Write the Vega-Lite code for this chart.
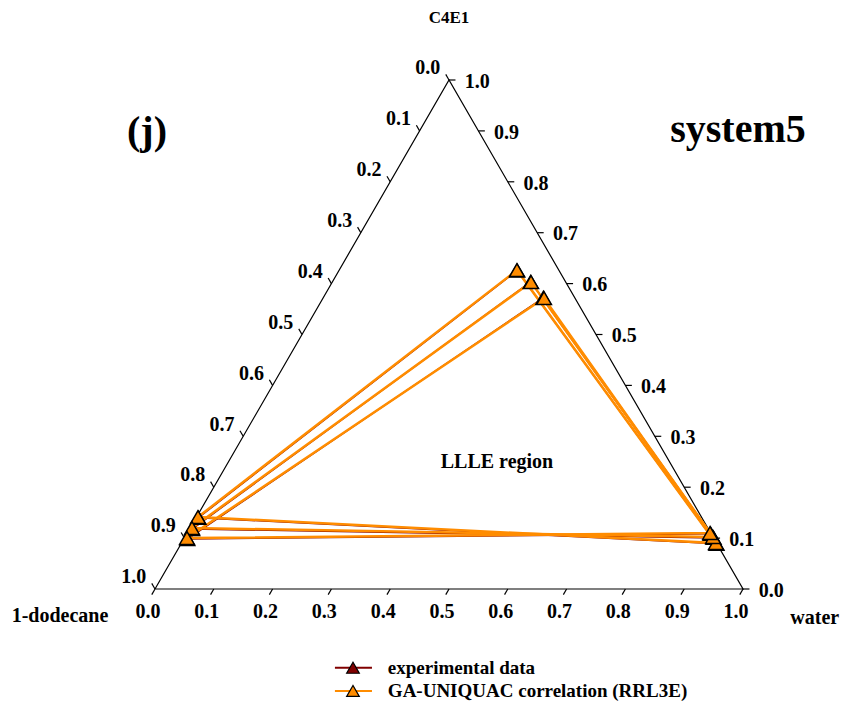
{
"$schema": "https://vega.github.io/schema/vega-lite/v6.json",
"width": 588, "height": 509,
"autosize": {"type": "none"},
"padding": {"left": 155, "top": 80, "right": 112, "bottom": 124},
"background": "white",
"config": {"view": {"stroke": null}, "text": {"font": "Liberation Serif", "fontWeight": "bold", "color": "black"}},
"datasets": {
"frame": [{"x":0,"y":0,"o":0},{"x":1,"y":0,"o":1},{"x":0.5,"y":0.866,"o":2},{"x":0,"y":0,"o":3}],
"ticks": [
{"x":0,"y":0,"x2":-0.0055,"y2":-0.0095},{"x":0.1,"y":0,"x2":0.0945,"y2":-0.0095},{"x":0.2,"y":0,"x2":0.1945,"y2":-0.0095},{"x":0.3,"y":0,"x2":0.2945,"y2":-0.0095},{"x":0.4,"y":0,"x2":0.3945,"y2":-0.0095},{"x":0.5,"y":0,"x2":0.4945,"y2":-0.0095},{"x":0.6,"y":0,"x2":0.5945,"y2":-0.0095},{"x":0.7,"y":0,"x2":0.6945,"y2":-0.0095},{"x":0.8,"y":0,"x2":0.7945,"y2":-0.0095},{"x":0.9,"y":0,"x2":0.8945,"y2":-0.0095},{"x":1,"y":0,"x2":0.9945,"y2":-0.0095},
{"x":1,"y":0,"x2":1.011,"y2":0},{"x":0.95,"y":0.0866,"x2":0.961,"y2":0.0866},{"x":0.9,"y":0.1732,"x2":0.911,"y2":0.1732},{"x":0.85,"y":0.2598,"x2":0.861,"y2":0.2598},{"x":0.8,"y":0.3464,"x2":0.811,"y2":0.3464},{"x":0.75,"y":0.433,"x2":0.761,"y2":0.433},{"x":0.7,"y":0.5196,"x2":0.711,"y2":0.5196},{"x":0.65,"y":0.6062,"x2":0.661,"y2":0.6062},{"x":0.6,"y":0.6928,"x2":0.611,"y2":0.6928},{"x":0.55,"y":0.7794,"x2":0.561,"y2":0.7794},{"x":0.5,"y":0.866,"x2":0.511,"y2":0.866},
{"x":0.5,"y":0.866,"x2":0.4945,"y2":0.8755},{"x":0.45,"y":0.7794,"x2":0.4445,"y2":0.7889},{"x":0.4,"y":0.6928,"x2":0.3945,"y2":0.7023},{"x":0.35,"y":0.6062,"x2":0.3445,"y2":0.6157},{"x":0.3,"y":0.5196,"x2":0.2945,"y2":0.5291},{"x":0.25,"y":0.433,"x2":0.2445,"y2":0.4425},{"x":0.2,"y":0.3464,"x2":0.1945,"y2":0.3559},{"x":0.15,"y":0.2598,"x2":0.1445,"y2":0.2693},{"x":0.1,"y":0.1732,"x2":0.0945,"y2":0.1827},{"x":0.05,"y":0.0866,"x2":0.0445,"y2":0.0961},{"x":0,"y":0,"x2":-0.0055,"y2":0.0095}
],
"labels": [
{"x":-0.012,"y":-0.039,"t":"0.0"},{"x":0.088,"y":-0.039,"t":"0.1"},{"x":0.188,"y":-0.039,"t":"0.2"},{"x":0.288,"y":-0.039,"t":"0.3"},{"x":0.388,"y":-0.039,"t":"0.4"},{"x":0.488,"y":-0.039,"t":"0.5"},{"x":0.588,"y":-0.039,"t":"0.6"},{"x":0.688,"y":-0.039,"t":"0.7"},{"x":0.788,"y":-0.039,"t":"0.8"},{"x":0.888,"y":-0.039,"t":"0.9"},{"x":0.988,"y":-0.039,"t":"1.0"},
{"x":1.048,"y":-0.003,"t":"0.0"},{"x":0.998,"y":0.0836,"t":"0.1"},{"x":0.948,"y":0.1702,"t":"0.2"},{"x":0.898,"y":0.2568,"t":"0.3"},{"x":0.848,"y":0.3434,"t":"0.4"},{"x":0.798,"y":0.43,"t":"0.5"},{"x":0.748,"y":0.5166,"t":"0.6"},{"x":0.698,"y":0.6032,"t":"0.7"},{"x":0.648,"y":0.6898,"t":"0.8"},{"x":0.598,"y":0.7764,"t":"0.9"},{"x":0.548,"y":0.863,"t":"1.0"},
{"x":0.464,"y":0.886,"t":"0.0"},{"x":0.414,"y":0.7994,"t":"0.1"},{"x":0.364,"y":0.7128,"t":"0.2"},{"x":0.314,"y":0.6262,"t":"0.3"},{"x":0.264,"y":0.5396,"t":"0.4"},{"x":0.214,"y":0.453,"t":"0.5"},{"x":0.164,"y":0.3664,"t":"0.6"},{"x":0.114,"y":0.2798,"t":"0.7"},{"x":0.064,"y":0.1932,"t":"0.8"},{"x":0.014,"y":0.1066,"t":"0.9"},{"x":-0.036,"y":0.02,"t":"1.0"}
],
"ties": [
{"s":"exp","k":1,"o":0,"x":0.0738,"y":0.1212},{"s":"exp","k":1,"o":1,"x":0.616,"y":0.5418},{"s":"exp","k":1,"o":2,"x":0.955,"y":0.077},{"s":"exp","k":1,"o":3,"x":0.0738,"y":0.1212},
{"s":"exp","k":2,"o":0,"x":0.0632,"y":0.102},{"s":"exp","k":2,"o":1,"x":0.639,"y":0.5225},{"s":"exp","k":2,"o":2,"x":0.95,"y":0.087},{"s":"exp","k":2,"o":3,"x":0.0632,"y":0.102},
{"s":"exp","k":3,"o":0,"x":0.055,"y":0.085},{"s":"exp","k":3,"o":1,"x":0.6605,"y":0.4955},{"s":"exp","k":3,"o":2,"x":0.945,"y":0.094},{"s":"exp","k":3,"o":3,"x":0.055,"y":0.085},
{"s":"calc","k":1,"o":0,"x":0.0731,"y":0.1224},{"s":"calc","k":1,"o":1,"x":0.6156,"y":0.5425},{"s":"calc","k":1,"o":2,"x":0.954,"y":0.0782},{"s":"calc","k":1,"o":3,"x":0.0731,"y":0.1224},
{"s":"calc","k":2,"o":0,"x":0.0629,"y":0.1037},{"s":"calc","k":2,"o":1,"x":0.6395,"y":0.5221},{"s":"calc","k":2,"o":2,"x":0.949,"y":0.0884},{"s":"calc","k":2,"o":3,"x":0.0629,"y":0.1037},
{"s":"calc","k":3,"o":0,"x":0.0544,"y":0.0867},{"s":"calc","k":3,"o":1,"x":0.6616,"y":0.4949},{"s":"calc","k":3,"o":2,"x":0.944,"y":0.0952},{"s":"calc","k":3,"o":3,"x":0.0544,"y":0.0867}
],
"legend": [
{"s":"exp","x":0.306,"x2":0.369,"xp":0.3367,"xt":0.396,"y":-0.134,"t":"experimental data"},
{"s":"calc","x":0.306,"x2":0.369,"xp":0.3367,"xt":0.396,"y":-0.1735,"t":"GA-UNIQUAC correlation (RRL3E)"}
]
},
"encoding": {
"x": {"field":"x","type":"quantitative","scale":{"domain":[0,1],"nice":false,"zero":false},"axis":null},
"y": {"field":"y","type":"quantitative","scale":{"domain":[0,0.866],"nice":false,"zero":false},"axis":null}
},
"layer": [
{"data":{"name":"frame"},"mark":{"type":"line","color":"black","strokeWidth":1.2},"encoding":{"order":{"field":"o"}}},
{"data":{"name":"ticks"},"mark":{"type":"rule","color":"black","strokeWidth":1.2},"encoding":{"x2":{"field":"x2"},"y2":{"field":"y2"}}},
{"data":{"name":"labels"},"mark":{"type":"text","fontSize":20,"align":"center","baseline":"middle"},"encoding":{"text":{"field":"t"}}},
{"data":{"name":"ties"},"transform":[{"filter":"datum.s==='exp'"}],"mark":{"type":"line","color":"#800000","strokeWidth":1.5},"encoding":{"detail":{"field":"k"},"order":{"field":"o"}}},
{"data":{"name":"ties"},"transform":[{"filter":"datum.s==='calc'"}],"mark":{"type":"line","color":"#ff8c00","strokeWidth":2.5},"encoding":{"detail":{"field":"k"},"order":{"field":"o"}}},
{"data":{"name":"ties"},"transform":[{"filter":"datum.s==='exp' && datum.o<3"}],"mark":{"type":"point","shape":"triangle-up","size":220,"filled":true,"fill":"#800000","stroke":"black","strokeWidth":1.5,"opacity":1}},
{"data":{"name":"ties"},"transform":[{"filter":"datum.s==='calc' && datum.o<3"}],"mark":{"type":"point","shape":"triangle-up","size":220,"filled":true,"fill":"#ff8c00","stroke":"black","strokeWidth":1.5,"opacity":1}},
{"data":{"values":[{"x":-0.0136,"y":0.777,"t":"(j)"},{"x":0.9915,"y":0.781,"t":"system5"}]},"mark":{"type":"text","fontSize":40,"align":"center","baseline":"middle"},"encoding":{"text":{"field":"t"}}},
{"data":{"values":[{"x":0.5,"y":0.971,"t":"C4E1"}]},"mark":{"type":"text","fontSize":17,"align":"center","baseline":"middle"},"encoding":{"text":{"field":"t"}}},
{"data":{"values":[{"x":-0.1616,"y":-0.0459,"t":"1-dodecane"},{"x":1.122,"y":-0.049,"t":"water"},{"x":0.5816,"y":0.216,"t":"LLLE region"}]},"mark":{"type":"text","fontSize":20,"align":"center","baseline":"middle"},"encoding":{"text":{"field":"t"}}},
{"data":{"name":"legend"},"transform":[{"filter":"datum.s==='exp'"}],"mark":{"type":"rule","color":"#800000","strokeWidth":2},"encoding":{"x2":{"field":"x2"}}},
{"data":{"name":"legend"},"transform":[{"filter":"datum.s==='calc'"}],"mark":{"type":"rule","color":"#ff8c00","strokeWidth":2},"encoding":{"x2":{"field":"x2"}}},
{"data":{"name":"legend"},"transform":[{"filter":"datum.s==='exp'"}],"mark":{"type":"point","shape":"triangle-up","size":160,"filled":true,"fill":"#800000","stroke":"black","strokeWidth":1.2,"opacity":1},"encoding":{"x":{"field":"xp","type":"quantitative"}}},
{"data":{"name":"legend"},"transform":[{"filter":"datum.s==='calc'"}],"mark":{"type":"point","shape":"triangle-up","size":160,"filled":true,"fill":"#ff8c00","stroke":"black","strokeWidth":1.2,"opacity":1},"encoding":{"x":{"field":"xp","type":"quantitative"}}},
{"data":{"name":"legend"},"mark":{"type":"text","fontSize":19,"align":"left","baseline":"middle"},"encoding":{"x":{"field":"xt","type":"quantitative"},"text":{"field":"t"}}}
]
}
